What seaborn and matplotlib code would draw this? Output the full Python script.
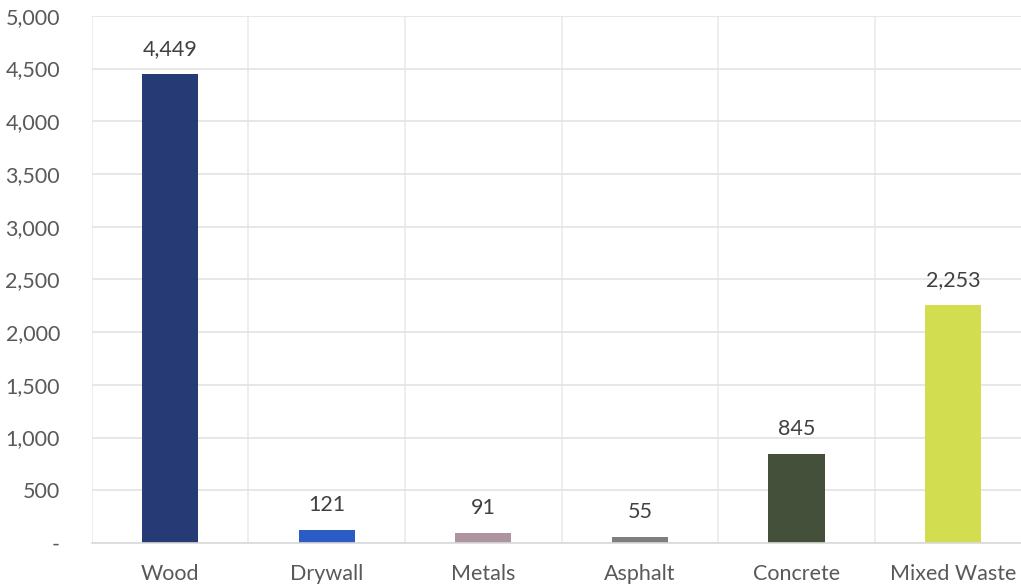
import numpy as np
import pandas as pd
import seaborn as sns
import matplotlib.pyplot as plt
from matplotlib.ticker import FuncFormatter, MultipleLocator

# Chart data
categories = ['Wood', 'Drywall', 'Metals', 'Asphalt', 'Concrete', 'Mixed Waste']
values = [4449, 121, 91, 55, 845, 2253]
bar_colors = ['#263B76', '#2B5BC5', '#AE94A0', '#7F7F7F', '#45503A', '#D3DD50']

df = pd.DataFrame({'category': categories, 'value': values})

sns.set_style('white')
plt.rcParams['font.family'] = ['Lato', 'DejaVu Sans']

fig = plt.figure(figsize=(10.21, 5.88), dpi=100)
ax = fig.add_axes([0.090, 0.0765, 0.920, 0.8965])

sns.barplot(data=df, x='category', y='value', hue='category', palette=bar_colors,
            width=0.36, legend=False, ax=ax, saturation=1, linewidth=0)

ax.set_ylim(0, 5000)
ax.set_xlim(-0.5, len(categories) - 0.5)
ax.yaxis.set_major_locator(MultipleLocator(500))
ax.yaxis.set_major_formatter(FuncFormatter(lambda v, p: '-' if v == 0 else f'{int(v):,}'))

# gridlines: horizontal at every 500, vertical at category centres and boundaries
ax.set_xticks(np.arange(-0.5, len(categories), 0.5), minor=True)
ax.grid(axis='y', color='#E3E3E3', linewidth=1.2)
ax.grid(axis='x', which='minor', color='#EBEBEB', linewidth=1.2)
ax.set_axisbelow(True)

for side in ['top', 'right', 'left']:
    ax.spines[side].set_visible(False)
ax.spines['bottom'].set_color('#D9D9D9')
ax.spines['bottom'].set_linewidth(1.2)

ax.tick_params(axis='both', which='both', length=0, labelsize=15.5, colors='#595959')
ax.tick_params(axis='y', pad=23)
ax.tick_params(axis='x', pad=15)
ax.set_xlabel('')
ax.set_ylabel('')

for i, v in enumerate(values):
    ax.annotate(f'{v:,}', (i, v), xytext=(0, 11), textcoords='offset points',
                ha='center', va='bottom', fontsize=15.5, color='#404040')

plt.savefig('out.png', dpi=100)
